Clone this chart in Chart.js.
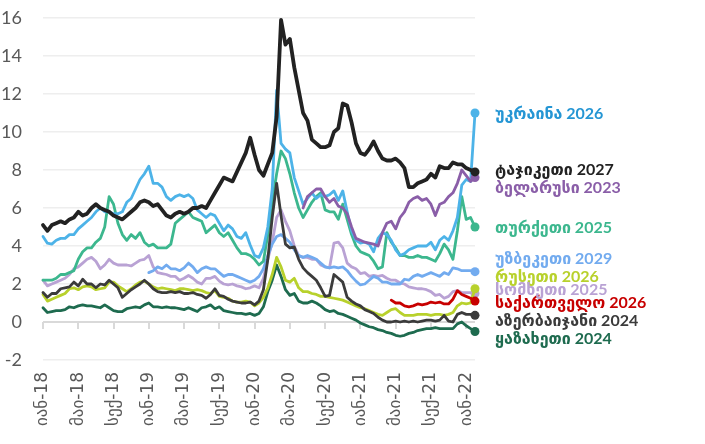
<!DOCTYPE html>
<html lang="ka">
<head>
<meta charset="utf-8">
<script src="https://cdn.jsdelivr.net/npm/chart.js@4.4.1/dist/chart.umd.min.js"></script>
<style>
    html, body { margin: 0; padding: 0; background: #fff; }
    #wrap { position: relative; width: 705px; height: 444px; }
</style>
</head>
<body>
<div id="wrap"><canvas id="chart"></canvas></div>
<script>
'use strict';

// one sample every half month, first sample = January 2018
const STEP = 0.5;

const tickMonths = [0, 4, 8, 12, 16, 20, 24, 28, 32, 36, 40, 44, 48];
const tickLabels = ['იან-18', 'მაი-18', 'სექ-18', 'იან-19', 'მაი-19', 'სექ-19', 'იან-20',
                    'მაი-20', 'სექ-20', 'იან-21', 'მაი-21', 'სექ-21', 'იან-22'];

const tajikistan = [
    5.1, 4.8, 5.1, 5.2, 5.3, 5.2, 5.4, 5.5, 5.8, 5.6,
    5.7, 6.0, 6.2, 6.0, 5.9, 5.8, 5.6, 5.5, 5.4, 5.6,
    5.8, 6.0, 6.3, 6.4, 6.3, 6.1, 6.2, 5.9, 5.6, 5.5,
    5.7, 5.8, 5.7, 5.8, 6.0, 6.0, 6.1, 6.0, 6.4, 6.8,
    7.2, 7.6, 7.5, 7.4, 7.9, 8.4, 8.9, 9.7, 8.8, 8.0,
    7.7, 8.3, 8.9, 10.8, 15.9, 14.6, 14.9, 13.4, 12.2, 11.0,
    10.6, 9.6, 9.4, 9.2, 9.2, 9.3, 10.0, 10.2, 11.5, 11.4,
    10.5, 9.4, 8.9, 8.8, 9.1, 9.5, 9.0, 8.6, 8.5, 8.5,
    8.6, 8.4, 8.1, 7.1, 7.1, 7.3, 7.4, 7.5, 7.8, 7.6,
    8.2, 8.1, 8.1, 8.4, 8.3, 8.3, 8.1, 8.0, 7.9
];
const ukraine = [
    4.5, 4.15, 4.1, 4.3, 4.4, 4.4, 4.6, 4.6, 4.9, 5.1,
    5.3, 5.5, 5.8, 6.0, 5.8, 5.8, 5.7, 5.7, 5.8, 6.3,
    6.5, 7.0, 7.5, 7.8, 8.2, 7.3, 7.3, 7.1, 6.6, 6.4,
    6.6, 6.7, 6.6, 6.7, 6.5, 5.9, 5.7, 5.5, 5.7, 5.6,
    5.2, 4.8, 5.1, 4.9, 4.5, 4.4, 4.7, 4.05, 3.5, 3.4,
    3.9, 5.0, 7.0, 12.2, 9.4, 9.1, 8.9, 7.6, 6.9, 6.2,
    6.5, 6.8, 6.5, 6.7, 6.6, 6.7, 6.9, 6.4, 6.9, 5.8,
    4.8, 4.3, 4.15, 4.2, 4.1, 3.7, 4.4, 4.7, 4.6, 4.3,
    3.8, 3.5, 3.6, 3.8, 3.9, 4.0, 4.0, 4.0, 4.2, 3.8,
    4.3, 4.5, 4.3, 4.8, 5.5, 7.2, 7.5, 7.4, 11.0
];
const belarusStart = 59;
const belarus = [
    6.0, 6.6, 6.8, 7.0, 7.0, 6.6, 6.3, 6.5, 6.1, 6.0, 5.7,
    5.0, 4.4, 4.3, 4.2, 4.15, 4.1, 4.0, 4.7, 5.2, 5.3,
    4.9, 5.5, 5.8, 6.3, 6.5, 6.6, 6.4, 6.5, 6.2, 5.6,
    6.2, 6.3, 6.6, 6.8, 7.3, 8.0, 7.7, 7.4, 7.6
];
const turkey = [
    2.2, 2.2, 2.2, 2.3, 2.5, 2.5, 2.6, 2.7, 3.3, 3.7,
    3.9, 3.9, 4.2, 4.4, 5.0, 6.6, 6.2, 5.2, 4.6, 4.3,
    4.6, 4.4, 4.7, 4.2, 4.0, 4.1, 3.9, 3.9, 3.9, 4.1,
    5.2, 5.4, 5.6, 5.8, 5.5, 5.4, 5.3, 4.7, 4.9, 5.1,
    4.7, 4.5, 4.7, 4.3, 3.9, 3.6, 3.6, 3.5, 3.3, 3.0,
    3.2, 4.6, 6.3, 7.8, 9.0, 8.6, 7.8, 6.8, 6.0, 5.5,
    5.9, 6.3, 6.6, 6.8, 5.9, 5.8, 5.8, 5.4, 6.2, 5.4,
    4.6, 4.0, 3.7, 3.6, 3.5, 3.2, 2.8, 2.9, 4.7, 4.2,
    3.9, 3.5, 3.5, 3.4, 3.4, 3.5, 3.4, 3.4, 3.3, 3.2,
    3.6, 4.1, 3.8, 3.3, 4.8, 6.6, 5.4, 5.5, 5.0
];
const uzbekistanStart = 24;
const uzbekistan = [
    2.6, 2.7, 2.9, 2.8, 3.0, 2.8,
    2.8, 2.7, 2.85, 3.1, 2.9, 2.6, 2.8, 2.9, 2.8, 2.8,
    2.6, 2.4, 2.5, 2.5, 2.4, 2.3, 2.2, 2.1, 2.2, 2.4,
    2.8, 3.5, 4.1, 4.5, 4.6, 4.4, 4.2, 3.8, 3.5, 3.4,
    3.5, 3.4, 3.3, 3.1, 2.9, 2.85, 2.9, 2.85, 2.9, 2.7,
    2.4, 2.15, 1.95, 2.0, 2.2, 2.4, 2.3, 2.1, 2.1, 2.0,
    2.0, 2.0, 2.25, 2.2, 2.4, 2.5, 2.4, 2.5, 2.6, 2.5,
    2.4, 2.6, 2.5, 2.85, 2.8, 2.7, 2.7, 2.7, 2.65
];
const russia = [
    1.45, 1.1, 1.2, 1.3, 1.4, 1.5, 1.75, 1.8, 1.7, 1.85,
    1.9, 1.85, 1.7, 1.75, 1.8, 2.1, 2.1, 1.9, 1.75, 1.6,
    1.75, 1.95, 2.1, 2.15, 2.0, 1.85, 1.75, 1.8, 1.75, 1.7,
    1.65, 1.75, 1.75, 1.7, 1.65, 1.7, 1.65, 1.55, 1.5, 1.65,
    1.35, 1.3, 1.25, 1.1, 1.05, 1.05, 1.1, 1.05, 0.85, 1.0,
    1.3, 1.8, 2.5, 3.4, 2.9, 2.2, 2.1, 2.3, 1.8, 1.6,
    1.6, 1.5, 1.45, 1.35, 1.35, 1.3, 1.25, 1.2, 1.15, 1.05,
    0.95, 0.85, 0.75, 0.7, 0.6, 0.5, 0.4, 0.35, 0.5, 0.65,
    0.7, 0.5, 0.35, 0.35, 0.35, 0.4, 0.4, 0.4, 0.35, 0.4,
    0.4, 0.35, 0.4, 0.5, 0.85, 1.0, 0.95, 1.0, 1.75
];
const armenia = [
    2.2, 1.9, 2.0, 2.1, 2.2, 2.3, 2.5, 2.8, 2.9, 3.1,
    3.3, 3.4, 3.2, 2.8, 3.0, 3.3, 3.1, 3.0, 3.0, 3.0,
    2.95, 3.1, 3.25, 3.3, 3.5, 2.9, 2.6, 2.55, 2.5, 2.4,
    2.4, 2.2, 2.3, 2.45, 2.3, 2.1, 2.0, 2.3, 2.3, 2.4,
    2.15, 2.0, 1.95, 2.0, 1.9, 1.85, 1.75, 1.8, 1.9, 1.8,
    2.3, 3.3, 4.2, 5.5, 5.9, 5.3, 4.8, 4.0, 3.5, 3.4,
    3.4, 3.3, 3.3, 3.0, 2.9, 2.85, 4.15, 4.2, 3.9, 3.1,
    2.9, 2.8, 2.55, 2.6, 2.4, 2.45, 2.4, 2.45, 2.3, 2.2,
    2.2, 2.05, 2.0, 1.85, 1.8, 1.75, 1.75, 1.7, 1.6, 1.4,
    1.45, 1.25, 1.35, 1.6, 1.65, 1.55, 1.55, 1.55, 1.5
];
const georgiaStart = 79;
const georgia = [
    1.15, 1.0, 1.0, 0.85, 0.8, 0.85, 0.95, 0.9, 0.95, 1.05,
    1.0, 1.05, 0.95, 0.95, 1.2, 1.65, 1.45, 1.35, 1.25, 1.1
];
const azerbaijan = [
    1.55, 1.3, 1.5, 1.5, 1.75, 1.8, 1.85, 2.1, 1.9, 2.25,
    2.0, 2.0, 1.8, 2.0, 1.95, 2.2, 2.0, 1.8, 1.3, 1.5,
    1.7, 1.85, 2.0, 2.2, 2.0, 1.75, 1.6, 1.55, 1.55, 1.6,
    1.55, 1.6, 1.5, 1.5, 1.55, 1.45, 1.4, 1.25, 1.45, 1.75,
    1.4, 1.35, 1.2, 1.1, 1.05, 1.0, 1.0, 1.05, 0.9, 1.1,
    1.7, 3.3, 5.5, 7.3, 5.6, 4.1, 3.9, 3.95, 3.3, 2.85,
    2.6, 2.4, 2.2, 1.8, 1.35, 1.4, 2.5, 2.3, 2.1, 1.3,
    1.1, 0.95, 0.85, 0.65, 0.55, 0.45, 0.25, 0.1, 0.0, 0.0,
    0.05, 0.0, 0.05, 0.0, 0.05, 0.0, 0.05, 0.1, 0.1, 0.05,
    0.1, 0.35, 0.05, 0.0, 0.4, 0.5, 0.4, 0.4, 0.35
];
const kazakhstan = [
    0.75, 0.5, 0.55, 0.6, 0.6, 0.65, 0.8, 0.75, 0.85, 0.9,
    0.85, 0.85, 0.8, 0.75, 0.9, 0.75, 0.6, 0.55, 0.55, 0.7,
    0.75, 0.8, 0.75, 0.9, 1.0, 0.8, 0.8, 0.75, 0.8, 0.75,
    0.75, 0.7, 0.65, 0.75, 0.65, 0.55, 0.75, 0.8, 0.9, 0.7,
    0.8, 0.6, 0.55, 0.5, 0.45, 0.45, 0.4, 0.45, 0.35, 0.45,
    0.8, 1.6, 2.2, 3.0, 2.4, 1.7, 1.4, 1.5, 1.1, 1.0,
    1.0, 1.1, 1.0, 0.85, 0.65, 0.55, 0.6, 0.45, 0.4, 0.3,
    0.2, 0.1, -0.05, -0.15, -0.25, -0.3, -0.4, -0.45, -0.55, -0.6,
    -0.7, -0.75, -0.7, -0.6, -0.55, -0.45, -0.4, -0.35, -0.35, -0.3,
    -0.35, -0.35, -0.35, -0.35, -0.1, 0.0, -0.2, -0.35, -0.5
];

// first entry is drawn on top
const SERIES = [
    { name: 'ტაჯიკეთი 2027',      data: tajikistan, start: 0,              line: '#222222', text: '#222222', width: 3.8, labelAt: 8.0 },
    { name: 'საქართველო 2026',    data: georgia,    start: georgiaStart,   line: '#c80000', text: '#c80000', width: 2.8, labelAt: 1.0 },
    { name: 'აზერბაიჯანი 2024',   data: azerbaijan, start: 0,              line: '#3b3b3b', text: '#3b3b3b', width: 2.8, labelAt: 0.05 },
    { name: 'ბელარუსი 2023',      data: belarus,    start: belarusStart,   line: '#8a5ea8', text: '#8a5ea8', width: 2.8, labelAt: 7.05 },
    { name: 'უკრაინა 2026',       data: ukraine,    start: 0,              line: '#4db3e8', text: '#2596d4', width: 2.8, labelAt: 10.95 },
    { name: 'თურქეთი 2025',       data: turkey,     start: 0,              line: '#3cb78e', text: '#3cb78e', width: 2.8, labelAt: 4.95 },
    { name: 'უზბეკეთი 2029',      data: uzbekistan, start: uzbekistanStart, line: '#72abef', text: '#72abef', width: 2.8, labelAt: 3.3 },
    { name: 'რუსეთი 2026',        data: russia,     start: 0,              line: '#b8d12c', text: '#b8d12c', width: 2.8, labelAt: 2.4 },
    { name: 'სომხეთი 2025',       data: armenia,    start: 0,              line: '#b9a2d4', text: '#b9a2d4', width: 2.8, labelAt: 1.7 },
    { name: 'ყაზახეთი 2024',      data: kazakhstan, start: 0,              line: '#1e6b4f', text: '#1e6b4f', width: 2.8, labelAt: -0.9 },
];

const GEO = '"DejaVu Sans", sans-serif';
const NUM = 'Lato, "DejaVu Sans", sans-serif';

const zeroAxis = {
    id: 'zeroAxis',
    beforeDatasetsDraw(chart) {
        const { ctx, chartArea, scales: { x, y } } = chart;
        const y0 = y.getPixelForValue(0);
        ctx.save();
        ctx.strokeStyle = '#d9d9d9';
        ctx.lineWidth = 2;
        ctx.beginPath();
        ctx.moveTo(chartArea.left, y0);
        ctx.lineTo(chartArea.right, y0);
        tickMonths.forEach(m => {
            const px = Math.round(x.getPixelForValue(m));
            ctx.moveTo(px, y0);
            ctx.lineTo(px, y0 + 7);
        });
        ctx.stroke();
        ctx.restore();
    }
};

const endLabels = {
    id: 'endLabels',
    afterDatasetsDraw(chart) {
        const { ctx, chartArea, scales: { y } } = chart;
        ctx.save();
        ctx.font = 'bold 16px ' + NUM;
        ctx.textBaseline = 'middle';
        SERIES.forEach(s => {
            ctx.fillStyle = s.text;
            ctx.fillText(s.name, chartArea.right + 20, y.getPixelForValue(s.labelAt));
        });
        ctx.restore();
    }
};

const datasets = SERIES.map(s => {
    const last = s.data.length - 1;
    return {
        label: s.name,
        data: s.data.map((v, i) => ({ x: (s.start + i) * STEP, y: v })),
        borderColor: s.line,
        backgroundColor: s.line,
        borderWidth: s.width,
        borderJoinStyle: 'round',
        borderCapStyle: 'round',
        tension: 0,
        pointRadius: ctx => ctx.dataIndex === last ? 4.5 : 0,
        pointHoverRadius: 0,
        pointBorderWidth: 0,
        pointBackgroundColor: s.line,
        clip: false,
    };
});

new Chart(document.getElementById('chart'), {
    type: 'line',
    data: { datasets },
    options: {
        responsive: true,
        maintainAspectRatio: false,
        animation: false,
        events: [],
        layout: { padding: { top: 18, right: 230, left: 0, bottom: 0 } },
        plugins: { legend: { display: false }, tooltip: { enabled: false } },
        scales: {
            x: {
                type: 'linear',
                min: 0,
                max: 49,
                afterBuildTicks: scale => { scale.ticks = tickMonths.map(v => ({ value: v })); },
                afterFit: scale => { scale.height = 84; scale.paddingLeft = 0; scale.paddingRight = 0; },
                grid: { display: false, drawTicks: false },
                border: { display: false },
                ticks: {
                    autoSkip: false,
                    minRotation: 90,
                    maxRotation: 90,
                    padding: 12,
                    color: '#595959',
                    font: { size: 17, family: GEO },
                    callback: (v, i) => tickLabels[i],
                },
            },
            y: {
                min: -2,
                max: 16,
                afterFit: scale => { scale.width = 43; scale.paddingTop = 0; scale.paddingBottom = 0; },
                grid: {
                    drawTicks: false,
                    color: c => c.tick.value === 0 ? 'rgba(0,0,0,0)' : '#eeeeee',
                    lineWidth: 1.5,
                },
                border: { display: false },
                ticks: {
                    stepSize: 2,
                    padding: 21,
                    color: '#595959',
                    font: { size: 18, family: NUM },
                },
            },
        },
    },
    plugins: [zeroAxis, endLabels],
});
</script>
</body>
</html>
